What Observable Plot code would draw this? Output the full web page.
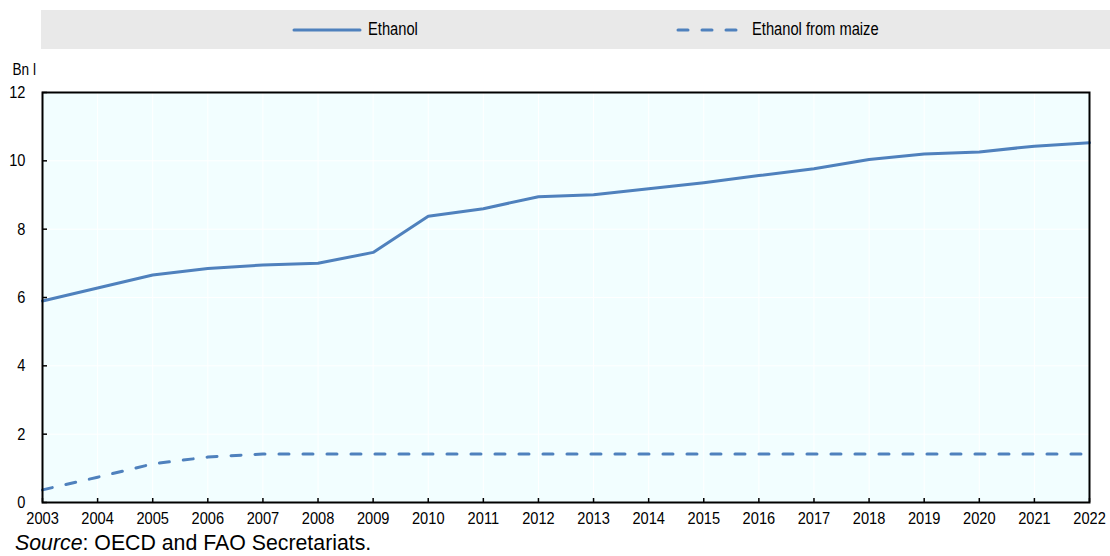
<!DOCTYPE html>
<html>
<head>
<meta charset="utf-8">
<script src="https://cdn.jsdelivr.net/npm/d3@7"></script>
<script src="https://cdn.jsdelivr.net/npm/@observablehq/plot@0.6"></script>
<style>
  html, body { margin: 0; padding: 0; background: #fff; }
  body { width: 1110px; height: 556px; position: relative; overflow: hidden;
         font-family: "Liberation Sans Narrow", "Arial Narrow", "Liberation Sans", Arial, sans-serif; }
  #legend { position: absolute; left: 41px; top: 10px; width: 1069px; height: 39px; background: #e9e9e9; }
  #legend .item { position: absolute; top: 0; height: 39px; display: flex; align-items: center; font-size: 17.5px; color: #000; white-space: nowrap; }
  #legend svg { display: block; margin-right: 6px; }
  #legend span { display: inline-block; transform: scaleX(0.84); transform-origin: left center; }
  #chart { position: absolute; left: 0; top: 55px; }
  #source { position: absolute; left: 15px; top: 531px; font-family: "Liberation Sans", Arial, sans-serif; font-size: 21.3px; color: #000; white-space: nowrap; }
</style>
</head>
<body>
<div id="legend"></div>
<div id="chart"></div>
<div id="source"><i>Source</i>: OECD and FAO Secretariats.</div>
<script>
// Series and axis values
const years = [2003, 2004, 2005, 2006, 2007, 2008, 2009, 2010, 2011, 2012,
               2013, 2014, 2015, 2016, 2017, 2018, 2019, 2020, 2021, 2022];
const ethanol = [5.9, 6.28, 6.66, 6.85, 6.95, 7.0, 7.32, 8.38, 8.6, 8.95,
                 9.01, 9.18, 9.36, 9.57, 9.77, 10.04, 10.2, 10.26, 10.43, 10.53];
const ethanolFromMaize = [0.37, 0.74, 1.13, 1.33, 1.42, 1.42, 1.42, 1.42, 1.42, 1.42,
                          1.42, 1.42, 1.42, 1.42, 1.42, 1.42, 1.42, 1.42, 1.42, 1.42];
const yTicks = [0, 2, 4, 6, 8, 10, 12];
const seriesNames = ["Ethanol", "Ethanol from maize"];
const unitLabel = "Bn l";

const blue = "#4f81bd";
const dash = "10,14";

const W = 1110, H = 470;
const mTop = 37, mLeft = 42, mRight = 21, mBottom = 23;
const innerW = W - mLeft - mRight;
const innerH = H - mTop - mBottom;

const ethanolRows = years.map((year, i) => ({year, value: ethanol[i]}));
const maizeRows = years.map((year, i) => ({year, value: ethanolFromMaize[i]}));

// Legend strip above the chart
const legend = document.getElementById("legend");
const legendItems = [
  {name: seriesNames[0], left: 251, dasharray: null},
  {name: seriesNames[1], left: 635, dasharray: dash}
];
for (const it of legendItems) {
  const div = document.createElement("div");
  div.className = "item";
  div.style.left = it.left + "px";
  div.innerHTML = `<svg width="70" height="10"><line x1="2" y1="5" x2="68" y2="5" stroke="${blue}" stroke-width="3" stroke-linecap="round" ${it.dasharray ? `stroke-dasharray="${it.dasharray}"` : ""}/></svg><span>${it.name}</span>`;
  legend.appendChild(div);
}

const chart = Plot.plot({
  width: W,
  height: H,
  marginTop: mTop,
  marginLeft: mLeft,
  marginRight: mRight,
  marginBottom: mBottom,
  style: {
    fontFamily: '"Liberation Sans", Arial, sans-serif',
    fontSize: "17px",
    color: "#000",
    background: "transparent",
    overflow: "visible"
  },
  x: {domain: [2003, 2022]},
  y: {domain: [0, 12]},
  marks: [
    Plot.frame({fill: "#f2feff"}),
    Plot.gridX(years, {stroke: "#ffffff", strokeOpacity: 1, strokeWidth: 1}),
    Plot.gridY(yTicks, {stroke: "#ffffff", strokeOpacity: 1, strokeWidth: 1}),
    Plot.line(maizeRows, {x: "year", y: "value", stroke: blue, strokeWidth: 3,
                          strokeDasharray: dash, strokeLinecap: "round"}),
    Plot.line(ethanolRows, {x: "year", y: "value", stroke: blue, strokeWidth: 3}),
    Plot.frame({stroke: "#000", strokeWidth: 2}),
    // short inward tick marks along the bottom and left edges
    Plot.ruleX(years, {x: d => d, stroke: "#000", strokeWidth: 1.5, insetTop: innerH - 4}),
    Plot.ruleY(yTicks, {y: d => d, stroke: "#000", strokeWidth: 1.5, insetRight: innerW - 5}),
    Plot.axisX({ticks: years, tickFormat: d => String(d), tickSize: 0, tickPadding: 9,
                label: null, fill: "#000"}),
    Plot.axisY({ticks: yTicks, tickSize: 0, tickPadding: 17, label: null, fill: "#000"}),
    Plot.text([unitLabel], {frameAnchor: "top-left", dx: -30, dy: -23, textAnchor: "start",
                            lineAnchor: "middle", fill: "#000", className: "unit-label"})
  ]
});
document.getElementById("chart").appendChild(chart);

// Tick and unit labels use a condensed set width
chart.querySelectorAll("text").forEach(t => {
  const len = t.getComputedTextLength();
  if (len > 0) {
    const squeeze = t.closest(".unit-label") ? 0.8 : 0.86;
    t.setAttribute("textLength", (len * squeeze).toFixed(2));
    t.setAttribute("lengthAdjust", "spacingAndGlyphs");
  }
});
</script>
</body>
</html>
